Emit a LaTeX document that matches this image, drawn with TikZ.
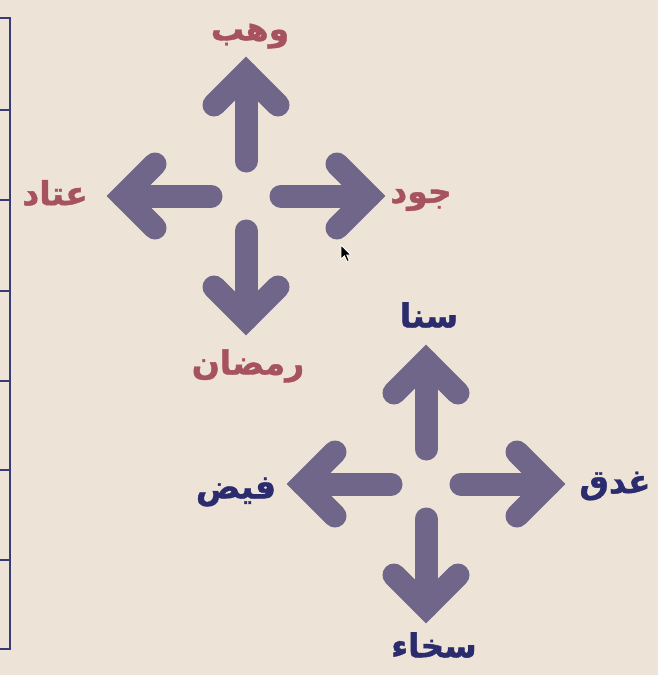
\documentclass[tikz,border=0pt]{standalone}
\usepackage{fontspec}
\newfontfamily\arabicfont[Script=Arabic,FakeBold=1.2]{DejaVu Sans Bold}
\TeXXeTstate=1
\definecolor{bgc}{HTML}{EDE3D6}
\definecolor{armc}{HTML}{6F6689}
\definecolor{rosec}{HTML}{A6525F}
\definecolor{navyc}{HTML}{2B2C6E}
\definecolor{tablec}{HTML}{3A3B76}
\tikzset{
  armline/.style={draw=armc, line width=23pt, line cap=round, line join=miter},
  arm/.pic={
    \draw[armline] (35,0) -- (123,0);
    \draw[armline] (91,32) -- (123,0) -- (91,-32);
  },
  rosel/.style={text=rosec, font=\arabicfont\fontsize{33}{36}\selectfont, inner sep=0pt},
  navyl/.style={text=navyc, font=\arabicfont\fontsize{33}{36}\selectfont, inner sep=0pt},
  tableline/.style={draw=tablec, line width=2.6pt}
}
\begin{document}
\begin{tikzpicture}[x=1pt,y=-1pt]
\useasboundingbox (0,0) rectangle (658,675);
\fill[bgc] (0,0) rectangle (658,675);
% left table edge
\draw[tableline] (0,18) -- (10,18) -- (10,649) -- (0,649);
\foreach \yy in {110,200,291,381,470,560} {
  \draw[tableline] (0,\yy) -- (10,\yy);
}
% upper cross
\coordinate (c1) at (246,196);
\foreach \r in {0,90,180,270} {
  \pic[shift={(c1)}, rotate=\r] {arm};
}
% lower cross
\coordinate (c2) at (426,484);
\foreach \r in {0,90,180,270} {
  \pic[shift={(c2)}, rotate=\r] {arm};
}
% labels
\node[rosel] (wahab) at (250,36) {\beginR وهب\endR};
\node[rosel] (atad) at (55,193) {\beginR عتاد\endR};
\node[rosel] (jud) at (421,200) {\beginR جود\endR};
\node[rosel] (ramadan) at (248,366) {\beginR رمضان\endR};
\node[navyl] (sana) at (429,315) {\beginR سنا\endR};
\node[navyl] (fayd) at (236,492) {\beginR فيض\endR};
\node[navyl] (ghadaq) at (615,486) {\beginR غدق\endR};
\node[navyl] (sakha) at (434,645) {\beginR سخاء\endR};
% mouse cursor
\filldraw[fill=black, draw=white, line width=0.8pt] (341,245) -- (341,259) -- (344.5,255.8) -- (347,261.5) -- (349.2,260.6) -- (346.8,255) -- (351,255) -- cycle;
\end{tikzpicture}
\end{document}
